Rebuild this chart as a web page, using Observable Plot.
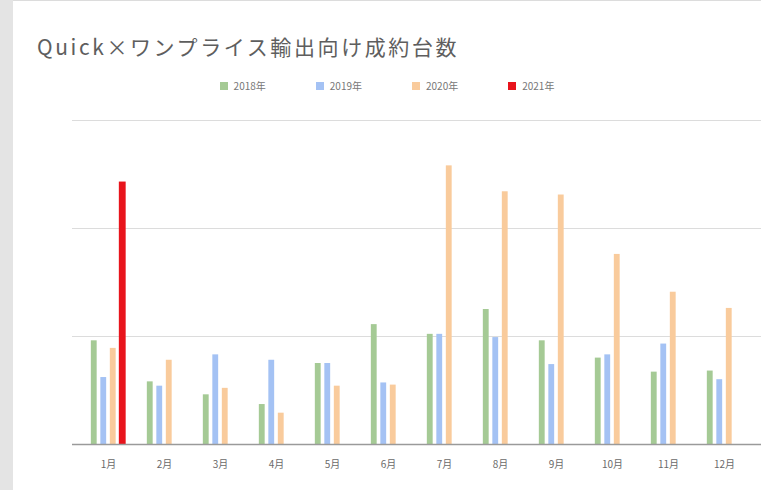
<!DOCTYPE html>
<html><head><meta charset="utf-8">
<script src="https://cdn.jsdelivr.net/npm/d3@7"></script>
<script src="https://cdn.jsdelivr.net/npm/@observablehq/plot@0.6"></script>
<style>
body{margin:0;width:761px;height:490px;overflow:hidden;background:#fff;position:relative;font-family:"Noto Sans CJK JP","Noto Sans",sans-serif;}
#strip{position:absolute;left:0;top:0;width:13px;height:490px;background:#e4e4e4;}
#topline{position:absolute;left:13px;top:0;width:748px;height:1px;background:#dcdcdc;}
#title{position:absolute;left:37px;top:36px;font-size:21px;letter-spacing:2.6px;color:#5e5e5e;white-space:nowrap;line-height:1;}
#legend{position:absolute;left:13px;width:748px;top:78px;display:flex;justify-content:center;gap:50px;font-size:10px;color:#777;}
#legend .it{display:flex;align-items:center;}
#legend .sw{width:8px;height:8px;margin-right:6px;}
#chart{position:absolute;left:0;top:100px;}
</style></head>
<body>
<div id="strip"></div><div id="topline"></div>
<div id="title">Quick×ワンプライス輸出向け成約台数</div>
<div id="legend"></div>
<div id="chart"></div>
<script>
const months = ["1月","2月","3月","4月","5月","6月","7月","8月","9月","10月","11月","12月"];
const years = ["2018年","2019年","2020年","2021年"];
const v2018 = [48, 29, 23, 18.5, 37.5, 55.5, 51, 62.5, 48, 40, 33.5, 34];
const v2019 = [31, 27, 41.5, 39, 37.5, 28.5, 51, 49.5, 37, 41.5, 46.5, 30];
const v2020 = [44.5, 39, 26, 14.5, 27, 27.5, 129, 117, 115.5, 88, 70.5, 63];
const v2021 = [121.5, null, null, null, null, null, null, null, null, null, null, null];
const colors = ["#a5ca95", "#a4c2f4", "#f9cb9c", "#e8141c"];
const series = [v2018, v2019, v2020, v2021];

const leg = document.getElementById("legend");
years.forEach((y, i) => {
  const it = document.createElement("div"); it.className = "it";
  const sw = document.createElement("div"); sw.className = "sw"; sw.style.background = colors[i];
  const tx = document.createElement("span"); tx.textContent = y;
  it.appendChild(sw); it.appendChild(tx); leg.appendChild(it);
});

const xr = [79, 753];
const bw = (xr[1] - xr[0]) / months.length;
const step = 9.5;
const barMarks = series.map((vals, i) => {
  const data = months.map((m, j) => ({month: m, value: vals[j]})).filter(d => d.value != null);
  const w = i === 3 ? 7 : 6;
  const off = (i - 1.5) * step;
  return Plot.barY(data, {
    x: "month", y: "value", fill: colors[i],
    insetLeft: bw / 2 + off - w / 2,
    insetRight: bw / 2 - off - w / 2
  });
});

const plot = Plot.plot({
  width: 761, height: 390,
  marginTop: 20, marginBottom: 46, marginLeft: 72, marginRight: 0,
  style: {fontFamily: '"Noto Sans CJK JP", sans-serif', background: "transparent"},
  x: {domain: months, range: xr, padding: 0, label: null},
  y: {domain: [0, 150], axis: null},
  marks: [
    Plot.ruleY([50, 100, 150], {stroke: "#dcdcdc", strokeWidth: 1}),
    ...barMarks,
    Plot.ruleY([0], {stroke: "#9a9a9a", strokeWidth: 1.5}),
    Plot.axisX({tickSize: 0, tickPadding: 16, fontSize: 10, fill: "#6a6a6a"})
  ]
});
document.getElementById("chart").appendChild(plot);
</script>
</body></html>
